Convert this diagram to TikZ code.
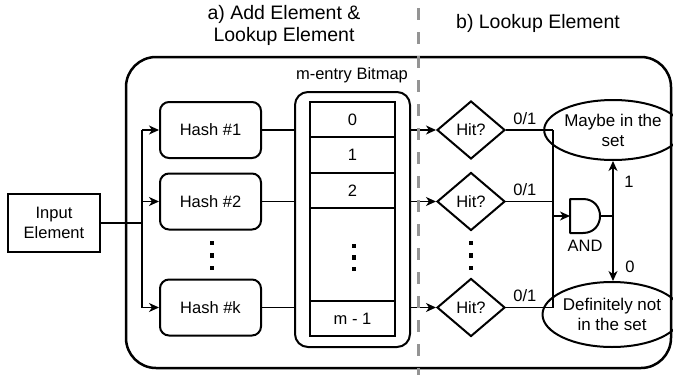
\documentclass[tikz,border=0pt]{standalone}
\usepackage{fontspec}
\setmainfont{Liberation Sans}
\usetikzlibrary{shapes.geometric,arrows.meta}

\tikzset{
  lbl/.style={font=\fontsize{16.5}{20}\selectfont, inner sep=0pt},
  box/.style={draw, line width=2pt, rectangle, inner sep=0pt, align=center,
    font=\fontsize{16.5}{20}\selectfont},
  hashbox/.style={box, rounded corners=9pt, minimum width=101pt, minimum height=56pt},
  cell/.style={draw, line width=2pt, rectangle, inner sep=0pt, minimum width=85pt,
    font=\fontsize{16.5}{20}\selectfont},
  hit/.style={draw, line width=2pt, diamond, aspect=1.17, inner sep=0pt,
    minimum width=68pt, minimum height=58pt, font=\fontsize{16.5}{20}\selectfont},
  result/.style={draw, line width=2pt, ellipse, inner sep=0pt, align=center,
    font=\fontsize{17}{20}\selectfont},
  wire/.style={line width=1.2pt},
  arrowwire/.style={wire, -{Stealth[length=10pt, width=9pt, inset=3pt]}},
  divider/.style={draw=black!42, line width=3pt, dash pattern=on 12pt off 12pt},
  vdot/.style={fill, minimum size=4.5pt, inner sep=0pt, rectangle},
}

\begin{document}
\begin{tikzpicture}[x=1pt, y=-1pt]
\useasboundingbox (0,0) rectangle (673,375);

% section headings
\node[lbl, font=\fontsize{19.5}{22}\selectfont, align=center] (ta) at (284,25)
  {a) Add Element \&\\Lookup Element};
\node[lbl, font=\fontsize{19.5}{22}\selectfont] (tb) at (538,23) {b) Lookup Element};

% enclosing frame
\node[draw, line width=2.5pt, rounded corners=30pt, minimum width=545pt,
  minimum height=311pt, inner sep=0pt] (frame) at (398.5,212.5) {};

% input
\node[box, minimum width=92pt, minimum height=58pt] (in) at (54,223) {Input\\Element};

% hash functions
\node[hashbox] (h1) at (210.5,130) {Hash \#1};
\node[hashbox] (h2) at (210.5,201.5) {Hash \#2};
\node[hashbox] (hk) at (210.5,307.5) {Hash \#k};
\node[vdot] (hd1) at (212,243) {};
\node[vdot] (hd2) at (212,255.5) {};
\node[vdot] (hd3) at (212,268) {};

% bitmap
\node[draw, line width=2pt, rounded corners=13pt, minimum width=115pt,
  minimum height=255pt, inner sep=0pt] (bmp) at (352.5,219.5) {};
\node[lbl] (bmptitle) at (352,75) {m-entry Bitmap};
\node[cell, minimum height=35pt] (c0) at (352.5,119.5) {0};
\node[cell, minimum height=36pt] (c1) at (352.5,155) {1};
\node[cell, minimum height=35pt] (c2) at (352.5,190.5) {2};
\node[cell, minimum height=93pt] (cdots) at (352.5,254.5) {};
\node[cell, minimum height=35pt] (cm) at (352.5,318.5) {m - 1};
\node[vdot] (bd1) at (354,246) {};
\node[vdot] (bd2) at (354,257.5) {};
\node[vdot] (bd3) at (354,269) {};

% membership tests
\node[hit] (d1) at (471,130) {Hit?};
\node[hit] (d2) at (471,201.5) {Hit?};
\node[hit] (d3) at (471,307.5) {Hit?};
\node[vdot] (dd1) at (471,243) {};
\node[vdot] (dd2) at (471,255.5) {};
\node[vdot] (dd3) at (471,268) {};

% outcomes
\node[result, minimum width=111pt, minimum height=60pt] (maybe) at (613,130)
  {Maybe in the\\set};
\node[result, minimum width=115pt, minimum height=65pt] (def) at (612,314.5)
  {Definitely not\\in the set};

% fan-out from the input to the hash functions
\coordinate (split) at (142,223);
\draw[wire] (in) -- (split);
\draw[wire] (split |- h1) -- (split |- hk);
\draw[arrowwire] (split |- h1) -- (h1);
\draw[arrowwire] (split |- h2) -- (h2);
\draw[arrowwire] (split |- hk) -- (hk);

% hash outputs into and out of the bitmap
\foreach \h/\d in {h1/d1, h2/d2, hk/d3}{
  \draw[wire] (\h) -- (\h -| bmp.west);
  \draw[arrowwire] (\h -| bmp.east) -- (\d);
}

% test results gathered on a bus
\coordinate (bus) at (553,216);
\foreach \d in {d1,d2,d3}{
  \draw[wire] (\d) -- (\d -| bus) node[lbl, pos=0.4, above=5pt] {0/1};
}
\draw[wire] (d1 -| bus) -- (d3 -| bus);

% AND gate
\coordinate (andin) at (570,216);
\coordinate (andout) at (600,216);
\draw[line width=2pt, line join=round] (570,199) -- (583,199)
  .. controls (605.7,199) and (605.7,233) .. (583,233) -- (570,233) -- cycle;
\node[lbl] (andlbl) at (585,246) {AND};
\draw[arrowwire] (bus) -- (andin);

% gate output to the two outcomes
\coordinate (tap) at (613,216);
\draw[wire] (andout) -- (tap);
\draw[arrowwire] (tap) -- (tap |- maybe.south);
\draw[arrowwire] (tap) -- (tap |- def.north);
\node[lbl] (one) at (629,182) {1};
\node[lbl] (zero) at (630,267) {0};

% divider between the two phases
\draw[divider] (418,8) -- (418,375);
\end{tikzpicture}
\end{document}
